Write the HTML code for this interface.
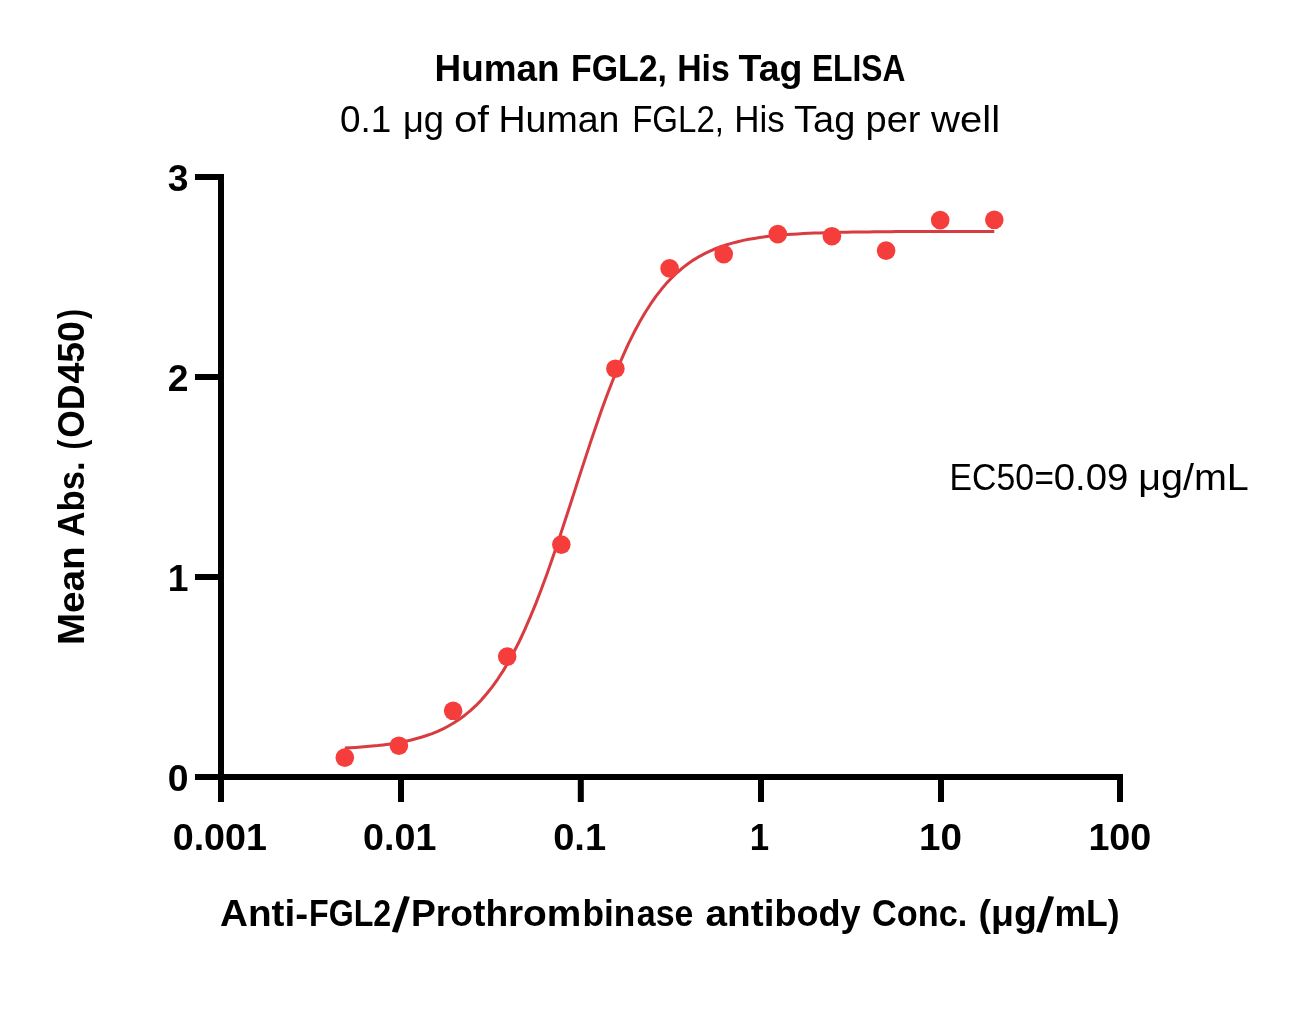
<!DOCTYPE html>
<html lang="en">
<head>
<meta charset="utf-8">
<title>Human FGL2, His Tag ELISA</title>
<style>
  html, body { margin: 0; padding: 0; background: #ffffff; }
  body { width: 1292px; height: 1032px; overflow: hidden; }
  svg { display: block; }
  text { font-family: "Liberation Sans", Arial, Helvetica, sans-serif; font-size: 37.3px; fill: #000000; }
  .b { font-weight: 700; }
</style>
</head>
<body>
<svg width="1292" height="1032" viewBox="0 0 1292 1032">
  <rect x="0" y="0" width="1292" height="1032" fill="#ffffff"/>

  <!-- chart title and subtitle -->
  <text class="b"><tspan x="434.5" y="80.6" textLength="125.0" lengthAdjust="spacingAndGlyphs">Human</tspan> <tspan x="571.0" y="80.6" textLength="96.0" lengthAdjust="spacingAndGlyphs">FGL2,</tspan> <tspan x="677.2" y="80.6" textLength="52.6" lengthAdjust="spacingAndGlyphs">His</tspan> <tspan x="738.5" y="80.6" textLength="63.9" lengthAdjust="spacingAndGlyphs">Tag</tspan> <tspan x="811.9" y="80.6" textLength="93.5" lengthAdjust="spacingAndGlyphs">ELISA</tspan></text>
  <text><tspan x="340.1" y="131.9" textLength="51.3" lengthAdjust="spacingAndGlyphs">0.1</tspan> <tspan x="402.9" y="131.9" textLength="41.1" lengthAdjust="spacingAndGlyphs">μg</tspan> <tspan x="453.9" y="131.9" textLength="35.0" lengthAdjust="spacingAndGlyphs">of</tspan> <tspan x="498.5" y="131.9" textLength="120.9" lengthAdjust="spacingAndGlyphs">Human</tspan> <tspan x="632.2" y="131.9" textLength="91.8" lengthAdjust="spacingAndGlyphs">FGL2,</tspan> <tspan x="734.2" y="131.9" textLength="50.5" lengthAdjust="spacingAndGlyphs">His</tspan> <tspan x="794.1" y="131.9" textLength="61.2" lengthAdjust="spacingAndGlyphs">Tag</tspan> <tspan x="865.5" y="131.9" textLength="55.0" lengthAdjust="spacingAndGlyphs">per</tspan> <tspan x="931.1" y="131.9" textLength="69.0" lengthAdjust="spacingAndGlyphs">well</tspan></text>

  <!-- axes -->
  <g fill="#000000">
    <rect x="218" y="174" width="6" height="628"/>
    <rect x="195" y="774" width="928" height="6"/>
    <rect x="195" y="174" width="26" height="6"/>
    <rect x="195" y="374" width="26" height="6"/>
    <rect x="195" y="574" width="26" height="6"/>
    <rect x="195" y="774" width="26" height="6"/>
    <rect x="218.0" y="777" width="6" height="25"/>
    <rect x="398.0" y="777" width="6" height="25"/>
    <rect x="577.8" y="777" width="6" height="25"/>
    <rect x="758.0" y="777" width="6" height="25"/>
    <rect x="938.0" y="777" width="6" height="25"/>
    <rect x="1117.0" y="777" width="6" height="25"/>
  </g>

  <!-- tick labels -->
  <g class="b">
    <text x="188.6" y="190.8" text-anchor="end">3</text>
    <text x="188.6" y="390.8" text-anchor="end">2</text>
    <text x="188.6" y="590.8" text-anchor="end">1</text>
    <text x="188.6" y="790.8" text-anchor="end">0</text>
    <text x="172.7" y="849.8" textLength="94.3" lengthAdjust="spacingAndGlyphs">0.001</text>
    <text x="363.1" y="849.8" textLength="73.3" lengthAdjust="spacingAndGlyphs">0.01</text>
    <text x="553.2" y="849.8" textLength="52.9" lengthAdjust="spacingAndGlyphs">0.1</text>
    <text x="749.8" y="849.8" textLength="19.4" lengthAdjust="spacingAndGlyphs">1</text>
    <text x="919.0" y="849.8" textLength="42.9" lengthAdjust="spacingAndGlyphs">10</text>
    <text x="1088.4" y="849.8" textLength="62.9" lengthAdjust="spacingAndGlyphs">100</text>
  </g>

  <!-- axis titles -->
  <text class="b"><tspan x="220.0" y="925.8" textLength="88.1" lengthAdjust="spacingAndGlyphs">Anti-</tspan><tspan x="309.0" y="925.8" textLength="82.2" lengthAdjust="spacingAndGlyphs">FGL2</tspan><tspan x="391.5" y="930.8" font-size="50" rotate="8">/</tspan><tspan x="411.0" y="925.8" textLength="97.2" lengthAdjust="spacingAndGlyphs">Proth</tspan><tspan x="508.0" y="925.8" textLength="73.4" lengthAdjust="spacingAndGlyphs">rom</tspan><tspan x="582.5" y="925.8" textLength="52.8" lengthAdjust="spacingAndGlyphs">bin</tspan><tspan x="636.8" y="925.8" textLength="56.6" lengthAdjust="spacingAndGlyphs">ase</tspan> <tspan x="705.5" y="925.8" textLength="68.9" lengthAdjust="spacingAndGlyphs">anti</tspan><tspan x="774.4" y="925.8" textLength="86.3" lengthAdjust="spacingAndGlyphs">body</tspan> <tspan x="872.1" y="925.8" textLength="95.2" lengthAdjust="spacingAndGlyphs">Conc.</tspan> <tspan x="978.5" y="925.8" textLength="58.3" lengthAdjust="spacingAndGlyphs">(μg</tspan><tspan x="1035.8" y="930.8" font-size="50" rotate="8">/</tspan><tspan x="1054.4" y="925.8" textLength="65.2" lengthAdjust="spacingAndGlyphs">mL)</tspan></text>
  <text class="b" transform="translate(84.1 645.5) rotate(-90)"><tspan x="0.4" y="0" textLength="98.8" lengthAdjust="spacingAndGlyphs">Mean</tspan> <tspan x="109.1" y="0" textLength="74.9" lengthAdjust="spacingAndGlyphs">Abs.</tspan> <tspan x="196.0" y="0" textLength="9.7" lengthAdjust="spacingAndGlyphs">(</tspan><tspan x="207.7" y="0" textLength="53.3" lengthAdjust="spacingAndGlyphs">OD</tspan><tspan x="261.9" y="0" textLength="62.6" lengthAdjust="spacingAndGlyphs">450</tspan><tspan x="326.4" y="0" textLength="10.1" lengthAdjust="spacingAndGlyphs">)</tspan></text>

  <!-- annotation -->
  <text style="font-size:36.3px"><tspan x="949.6" y="489.5" textLength="84.3" lengthAdjust="spacingAndGlyphs">EC50</tspan><tspan x="1034.4" y="489.5" textLength="19.4" lengthAdjust="spacingAndGlyphs">=</tspan><tspan x="1053.8" y="489.5" textLength="74.6" lengthAdjust="spacingAndGlyphs">0.09</tspan> <tspan x="1138.2" y="489.5" textLength="110.6" lengthAdjust="spacingAndGlyphs">μg/mL</tspan></text>

  <!-- fitted 4PL curve -->
  <path d="M344.8,748.0 L350.3,747.7 L355.7,747.4 L361.2,747.0 L366.7,746.6 L372.1,746.1 L377.6,745.6 L383.0,744.9 L388.5,744.2 L393.9,743.4 L399.4,742.4 L404.9,741.4 L410.3,740.2 L415.8,738.8 L421.2,737.3 L426.7,735.5 L432.2,733.6 L437.6,731.4 L443.1,728.8 L448.5,726.0 L454.0,722.8 L459.4,719.2 L464.9,715.2 L470.4,710.7 L475.8,705.7 L481.3,700.1 L486.7,693.8 L492.2,686.9 L497.6,679.3 L503.1,670.9 L508.6,661.8 L514.0,651.8 L519.5,641.0 L524.9,629.3 L530.4,616.7 L535.9,603.4 L541.3,589.3 L546.8,574.4 L552.2,558.9 L557.7,542.9 L563.1,526.5 L568.6,509.7 L574.1,492.8 L579.5,475.9 L585.0,459.1 L590.4,442.6 L595.9,426.5 L601.3,410.8 L606.8,395.8 L612.3,381.5 L617.7,368.0 L623.2,355.3 L628.6,343.4 L634.1,332.3 L639.6,322.1 L645.0,312.8 L650.5,304.2 L655.9,296.4 L661.4,289.3 L666.8,282.9 L672.3,277.2 L677.8,272.0 L683.2,267.4 L688.7,263.3 L694.1,259.6 L699.6,256.3 L705.1,253.4 L710.5,250.8 L716.0,248.5 L721.4,246.5 L726.9,244.7 L732.3,243.1 L737.8,241.7 L743.3,240.4 L748.7,239.3 L754.2,238.4 L759.6,237.5 L765.1,236.8 L770.5,236.1 L776.0,235.6 L781.5,235.1 L786.9,234.6 L792.4,234.2 L797.8,233.9 L803.3,233.6 L808.8,233.3 L814.2,233.1 L819.7,232.9 L825.1,232.7 L830.6,232.5 L836.0,232.4 L841.5,232.3 L847.0,232.2 L852.4,232.1 L857.9,232.0 L863.3,231.9 L868.8,231.9 L874.2,231.8 L879.7,231.8 L885.2,231.7 L890.6,231.7 L896.1,231.6 L901.5,231.6 L907.0,231.6 L912.5,231.6 L917.9,231.5 L923.4,231.5 L928.8,231.5 L934.3,231.5 L939.7,231.5 L945.2,231.5 L950.7,231.5 L956.1,231.5 L961.6,231.4 L967.0,231.4 L972.5,231.4 L978.0,231.4 L983.4,231.4 L988.9,231.4 L994.3,231.4" fill="none" stroke="#d83c40" stroke-width="3.0" stroke-linejoin="round" stroke-linecap="butt"/>

  <!-- data points -->
  <g fill="#f53e3c">
    <circle cx="344.8" cy="757.6" r="9.3"/>
    <circle cx="398.9" cy="745.7" r="9.3"/>
    <circle cx="453.1" cy="710.8" r="9.3"/>
    <circle cx="507.2" cy="656.6" r="9.3"/>
    <circle cx="561.3" cy="544.6" r="9.3"/>
    <circle cx="615.4" cy="368.7" r="9.3"/>
    <circle cx="669.6" cy="268.4" r="9.3"/>
    <circle cx="723.7" cy="254.1" r="9.3"/>
    <circle cx="777.8" cy="234.1" r="9.3"/>
    <circle cx="831.9" cy="236.2" r="9.3"/>
    <circle cx="886.1" cy="250.6" r="9.3"/>
    <circle cx="940.2" cy="220.1" r="9.3"/>
    <circle cx="994.3" cy="219.8" r="9.3"/>
  </g>
</svg>
</body>
</html>
